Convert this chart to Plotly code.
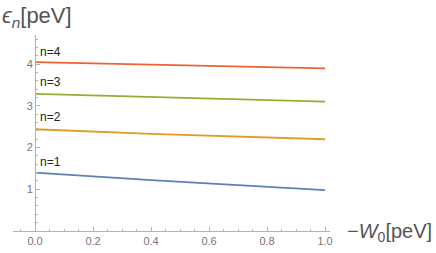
import plotly.graph_objects as go

x_vals = [0.0, 0.4, 1.0]
e1 = [1.40, 1.22, 0.98]
e2 = [2.44, 2.33, 2.20]
e3 = [3.29, 3.21, 3.10]
e4 = [4.05, 3.99, 3.90]
series = [e1, e2, e3, e4]
labels = ["n=1", "n=2", "n=3", "n=4"]
label_y = [1.65, 2.73, 3.58, 4.30]
colors = ["#5E81B5", "#E19C24", "#8FB032", "#EB6235"]
xticks = [0.0, 0.2, 0.4, 0.6, 0.8, 1.0]
yticks = [1, 2, 3, 4]

W, H = 436, 253
ml, mr, mt, mb = 13, 106, 35, 22
xr = [-0.076, 1.017]
yr = [0, 4.7]
pw = W - ml - mr
ph = H - mt - mb

fig = go.Figure()
for s, c in zip(series, colors):
    fig.add_trace(go.Scatter(x=x_vals, y=s, mode="lines", line=dict(color=c, width=1.8),
                             showlegend=False, hoverinfo="skip"))
for lab, ly in zip(labels, label_y):
    fig.add_annotation(x=0.01, y=ly, text=lab, showarrow=False, xanchor="left", yanchor="middle",
                       font=dict(size=12, color="#222", family="Liberation Sans"))

axcol = "#b3b3b3"
fig.update_xaxes(range=xr, tickvals=xticks, tickformat=".1f", ticks="inside", ticklen=4,
                 tickcolor=axcol, showline=True, linecolor=axcol, linewidth=1,
                 showgrid=False, zeroline=False, automargin=False,
                 minor=dict(tickmode="linear", tick0=0, dtick=0.05, ticks="inside", ticklen=2, tickcolor=axcol),
                 tickfont=dict(size=11, color="#777", family="Liberation Sans"))
ypos = (0 - xr[0]) / (xr[1] - xr[0])
fig.update_yaxes(range=yr, tickvals=yticks, ticks="inside", ticklen=4, tickcolor=axcol,
                 showline=True, linecolor=axcol, linewidth=1, anchor="free", position=ypos,
                 showgrid=False, zeroline=False, automargin=False,
                 minor=dict(tickmode="linear", tick0=0, dtick=0.2, ticks="inside", ticklen=2, tickcolor=axcol),
                 tickfont=dict(size=11, color="#777", family="Liberation Sans"))

fig.add_annotation(xref="paper", yref="paper", x=(0 - ml) / pw, y=(H - mb - 17) / ph,
                   text="<i>ϵ</i><sub><i>n</i></sub>[peV]", showarrow=False, xanchor="left", yanchor="middle",
                   font=dict(size=22, color="#555", family="Liberation Sans"))
fig.add_annotation(xref="paper", yref="paper", x=(434 - ml) / pw, y=(H - mb - 232) / ph,
                   text="−<i>W</i><sub>0</sub>[peV]", showarrow=False, xanchor="right", yanchor="middle",
                   font=dict(size=20, color="#555", family="Liberation Sans"))

fig.update_layout(width=W, height=H, margin=dict(l=ml, r=mr, t=mt, b=mb),
                  plot_bgcolor="white", paper_bgcolor="white")
fig.write_html("out.html", config={"displayModeBar": False},
               post_script="document.body.style.margin='0';")
